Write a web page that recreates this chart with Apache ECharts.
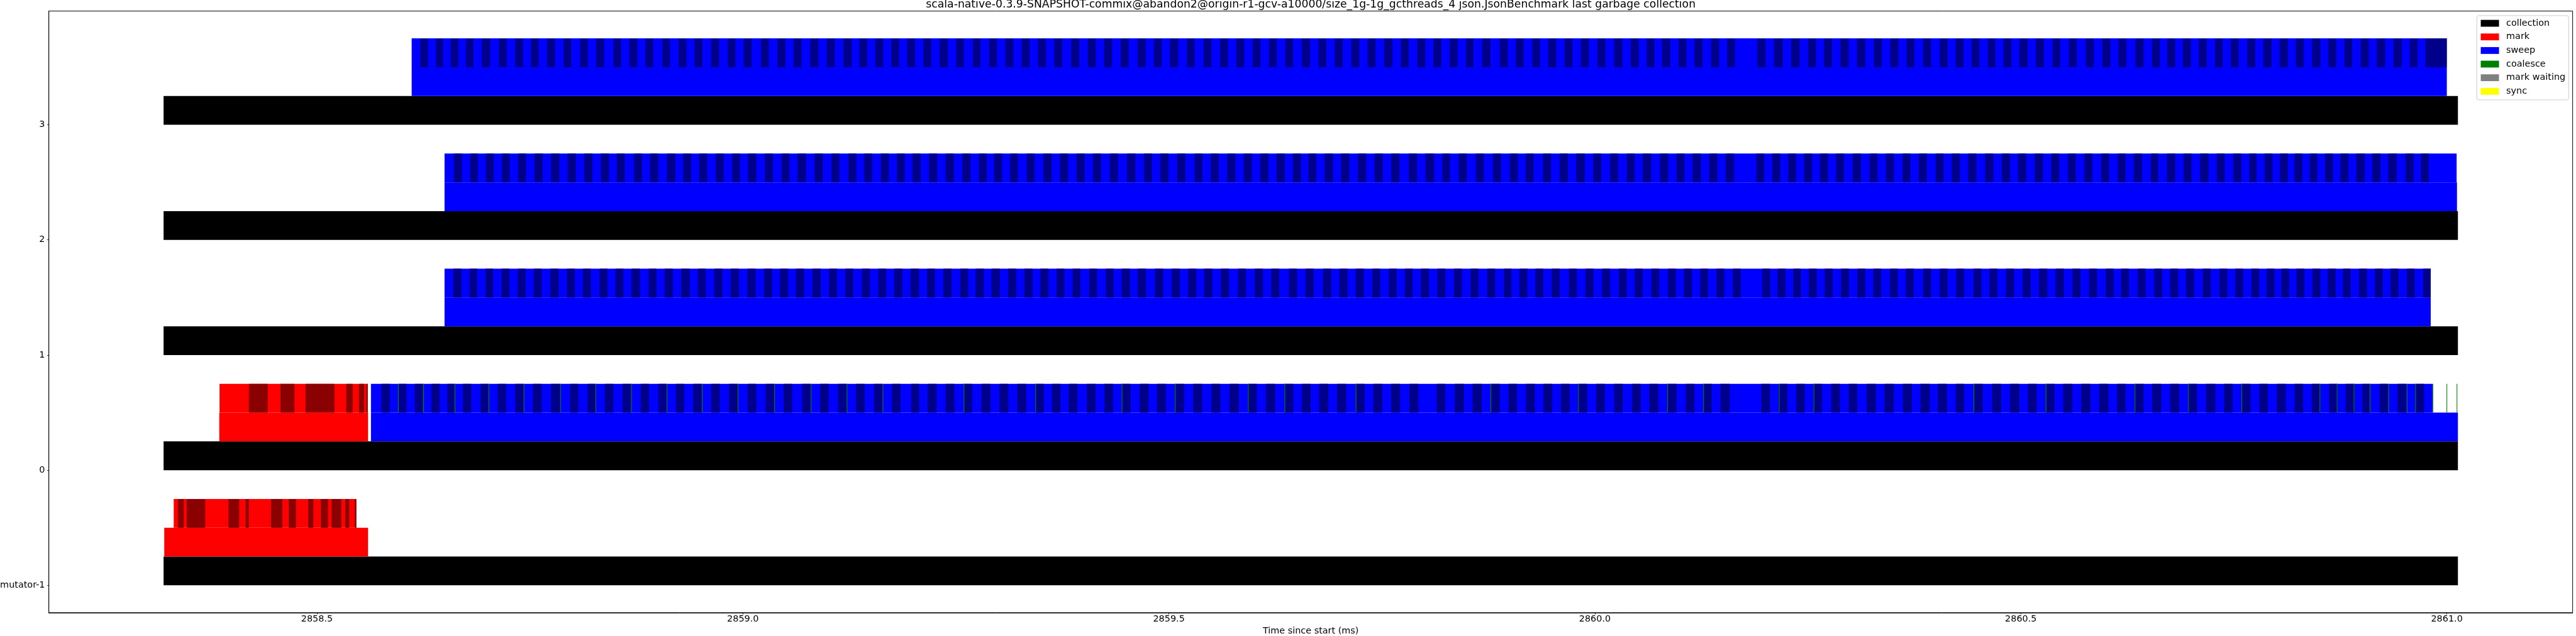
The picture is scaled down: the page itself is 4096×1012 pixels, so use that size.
<!DOCTYPE html>
<html><head><meta charset="utf-8">
<script src="https://cdn.jsdelivr.net/npm/echarts@6/dist/echarts.min.js"></script>
<style>html,body{margin:0;padding:0;background:#fff}#c{width:4096px;height:1012px}</style>
</head><body><div id="c"></div>
<script>
// ---------------- data ----------------
const titleText = 'scala-native-0.3.9-SNAPSHOT-commix@abandon2@origin-r1-gcv-a10000/size_1g-1g_gcthreads_4 json.JsonBenchmark last garbage collection';
const xAxisName = 'Time since start (ms)';
const yTickValues = [-1, 0, 1, 2, 3];
const yTickLabels = ['mutator-1', '0', '1', '2', '3'];
const xTickValues = [2858.5, 2859.0, 2859.5, 2860.0, 2860.5, 2861.0];
const xTickLabels = ['2858.5', '2859.0', '2859.5', '2860.0', '2860.5', '2861.0'];
const legendNames = ['collection', 'mark', 'sweep', 'coalesce', 'mark waiting', 'sync'];

// [row, start, end]
const collectionSpans = [[-1, 2858.3200, 2861.0130], [0, 2858.3200, 2861.0130], [1, 2858.3200, 2861.0130], [2, 2858.3200, 2861.0130], [3, 2858.3200, 2861.0130]];
const markPhases = [[-1, 2858.3208, 2858.5600], [0, 2858.3854, 2858.5600]];
const sweepPhases = [[0, 2858.5634, 2861.0130], [1, 2858.6498, 2860.9811], [2, 2858.6498, 2861.0119], [3, 2858.6112, 2861.0000]];
const markBatchSpans = [[-1, 2858.3319, 2858.5462], [0, 2858.3857, 2858.5596]];
const sweepBatchSpans = [[0, 2858.5634, 2860.9832], [1, 2858.6498, 2860.9811], [2, 2858.6498, 2861.0115], [3, 2858.6112, 2861.0000]];

// alternate (dark) batches, [start, end]
const markDarkMutator = [[2858.3368,2858.3437],[2858.3471,2858.3689],[2858.3961,2858.4087],[2858.4163,2858.4201],[2858.4461,2858.4595],[2858.4668,2858.4755],[2858.4897,2858.4958],[2858.5046,2858.5130],[2858.5172,2858.5287],[2858.5332,2858.5378],[2858.5443,2858.5462]];
const markDarkThread0 = [[2858.4201,2858.4423],[2858.4572,2858.4736],[2858.4866,2858.5206],[2858.5344,2858.5420],[2858.5493,2858.5554],[2858.5581,2858.5596]];

const sweepDarkThread0 = [[2858.5757,2858.5856],
[2858.5961,2858.6051],[2858.6148,2858.6246],[2858.6343,2858.6441],[2858.6530,2858.6620],[2858.6714,2858.6811],[2858.6920,2858.7014],[2858.7123,2858.7221],[2858.7326,2858.7427],[2858.7533,2858.7638],[2858.7747,2858.7856],[2858.7973,2858.8067],[2858.8176,2858.8270],[2858.8379,2858.8480],[2858.8586,2858.8687],[2858.8800,2858.8898],[2858.9007,2858.9104],[2858.9213,2858.9311],[2858.9416,2858.9518],[2858.9627,2858.9728],[2858.9837,2858.9939],[2859.0056,2859.0157],[2859.0266,2859.0368],[2859.0477,2859.0578],[2859.0695,2859.0797],[2859.0906,2859.1007],[2859.1117,2859.1218],[2859.1327,2859.1429],[2859.1538,2859.1639],[2859.1748,2859.1850],[2859.1975,2859.2067],
[2859.2168,2859.2274],[2859.2379,2859.2484],[2859.2590,2859.2691],[2859.2800,2859.2906],[2859.3011,2859.3116],[2859.3221,2859.3327],[2859.3432,2859.3533],[2859.3627,2859.3728],[2859.3822,2859.3927],[2859.4037,2859.4138],[2859.4243,2859.4345],[2859.4446,2859.4551],[2859.4657,2859.4762],[2859.4859,2859.4965],[2859.5070,2859.5179],[2859.5285,2859.5390],[2859.5499,2859.5604],[2859.5710,2859.5819],[2859.5928,2859.6033],[2859.6139,2859.6248],[2859.6357,2859.6462],[2859.6560,2859.6665],[2859.6763,2859.6872],[2859.6973,2859.7082],[2859.7192,2859.7297],[2859.7398,2859.7504],[2859.7609,2859.7714],[2859.7823,2859.7929],
[2859.8143,2859.8244],[2859.8354,2859.8463],[2859.8564,2859.8673],[2859.8775,2859.8884],[2859.8985,2859.9087],[2859.9192,2859.9297],[2859.9395,2859.9500],[2859.9602,2859.9703],[2859.9804,2859.9910],[2860.0015,2860.0116],[2860.0226,2860.0327],[2860.0436,2860.0538],[2860.0639,2860.0744],[2860.0850,2860.0959],[2860.1068,2860.1169],[2860.1271,2860.1372],[2860.1474,2860.1583],[2860.1953,2860.2055],[2860.2160,2860.2261],[2860.2363,2860.2464],[2860.2566,2860.2667],[2860.2772,2860.2878],[2860.2979,2860.3080],[2860.3190,2860.3299],[2860.3400,2860.3509],[2860.3615,2860.3720],[2860.3821,2860.3931],[2860.4024,2860.4133],
[2860.4234,2860.4335],[2860.4444,2860.4553],[2860.4663,2860.4768],[2860.4873,2860.4982],[2860.5084,2860.5185],[2860.5291,2860.5396],[2860.5497,2860.5606],[2860.5708,2860.5817],[2860.5918,2860.6028],[2860.6129,2860.6230],[2860.6336,2860.6441],[2860.6542,2860.6648],[2860.6753,2860.6858],[2860.6964,2860.7069],[2860.7174,2860.7283],[2860.7385,2860.7486],[2860.7588,2860.7697],[2860.7798,2860.7900],[2860.8005,2860.8110],[2860.8212,2860.8313],[2860.8414,2860.8516],[2860.8617,2860.8719],[2860.8812,2860.8921],[2860.9007,2860.9101],[2860.9210,2860.9311],[2860.9421,2860.9522],[2860.9631,2860.9733]];

const sweepDarkThread1 = [[2858.6600,2858.6698],[2858.6792,2858.6881],[2858.6979,2858.7068],[2858.7166,2858.7260],[2858.7357,2858.7451],[2858.7544,2858.7638],[2858.7739,2858.7837],[2858.7934,2858.8028],[2858.8121,2858.8215],[2858.8316,2858.8410],[2858.8504,2858.8597],[2858.8691,2858.8792],[2858.8894,2858.8987],[2858.9081,2858.9178],[2858.9276,2858.9377],[2858.9471,2858.9564],[2858.9662,2858.9759],[2858.9857,2858.9954],[2859.0052,2859.0149],[2859.0247,2859.0344],[2859.0434,2859.0532],[2859.0621,2859.0719],[2859.0816,2859.0914],[2859.1011,2859.1105],[2859.1202,2859.1296],[2859.1397,2859.1491],[2859.1589,2859.1682],[2859.1776,2859.1873],[2859.1967,2859.2067],
[2859.2161,2859.2254],[2859.2352,2859.2449],[2859.2551,2859.2644],[2859.2730,2859.2828],[2859.2917,2859.3015],[2859.3112,2859.3210],[2859.3303,2859.3401],[2859.3491,2859.3588],[2859.3682,2859.3775],[2859.3869,2859.3962],[2859.4064,2859.4157],[2859.4259,2859.4352],[2859.4446,2859.4544],[2859.4633,2859.4731],[2859.4836,2859.4934],[2859.5031,2859.5129],[2859.5226,2859.5324],[2859.5413,2859.5511],[2859.5608,2859.5706],[2859.5811,2859.5905],[2859.6006,2859.6104],[2859.6201,2859.6295],[2859.6408,2859.6505],[2859.6603,2859.6700],[2859.6809,2859.6907],[2859.7001,2859.7098],[2859.7192,2859.7289],[2859.7387,2859.7480],[2859.7582,2859.7675],[2859.7769,2859.7862],[2859.7956,2859.8054],
[2859.8151,2859.8244],[2859.8346,2859.8439],[2859.8541,2859.8634],[2859.8736,2859.8829],[2859.8931,2859.9021],[2859.9114,2859.9208],[2859.9301,2859.9395],[2859.9492,2859.9586],[2859.9695,2859.9789],[2859.9890,2859.9984],[2860.0085,2860.0179],[2860.0280,2860.0374],[2860.0467,2860.0561],[2860.0662,2860.0756],[2860.0857,2860.0951],[2860.1045,2860.1138],[2860.1236,2860.1329],[2860.1427,2860.1520],[2860.1618,2860.1712],[2860.1965,2860.2059],[2860.2144,2860.2238],[2860.2328,2860.2417],[2860.2511,2860.2605],[2860.2698,2860.2792],[2860.2889,2860.2983],[2860.3080,2860.3174],[2860.3268,2860.3361],[2860.3463,2860.3556],[2860.3650,2860.3743],[2860.3853,2860.3946],[2860.4048,2860.4141],
[2860.4241,2860.4335],[2860.4444,2860.4538],[2860.4631,2860.4725],[2860.4826,2860.4920],[2860.5021,2860.5115],[2860.5212,2860.5310],[2860.5407,2860.5505],[2860.5606,2860.5700],[2860.5801,2860.5895],[2860.5996,2860.6090],[2860.6176,2860.6269],[2860.6371,2860.6464],[2860.6566,2860.6659],[2860.6753,2860.6847],[2860.6940,2860.7034],[2860.7135,2860.7229],[2860.7330,2860.7424],[2860.7517,2860.7611],[2860.7705,2860.7798],[2860.7884,2860.7978],[2860.8056,2860.8149],[2860.8235,2860.8329],[2860.8422,2860.8516],[2860.8602,2860.8695],[2860.8781,2860.8871],[2860.8968,2860.9062],[2860.9155,2860.9249],[2860.9339,2860.9432],[2860.9530,2860.9623],[2860.9721,2860.9811]];

const sweepDarkThread2 = [[2858.6608,2858.6702],[2858.6799,2858.6889],[2858.6983,2858.7076],[2858.7170,2858.7263],[2858.7361,2858.7455],[2858.7552,2858.7650],[2858.7747,2858.7845],[2858.7942,2858.8040],[2858.8137,2858.8235],[2858.8332,2858.8430],[2858.8519,2858.8613],[2858.8722,2858.8816],[2858.8909,2858.9007],[2858.9108,2858.9206],[2858.9299,2858.9393],[2858.9486,2858.9580],[2858.9681,2858.9775],[2858.9873,2858.9966],[2859.0060,2859.0157],[2859.0259,2859.0352],[2859.0454,2859.0547],[2859.0641,2859.0742],[2859.0840,2859.0937],[2859.1039,2859.1132],[2859.1238,2859.1331],[2859.1425,2859.1518],[2859.1620,2859.1713],[2859.1807,2859.1901],
[2859.1989,2859.2087],[2859.2184,2859.2282],[2859.2379,2859.2477],[2859.2574,2859.2672],[2859.2769,2859.2863],[2859.2948,2859.3042],[2859.3136,2859.3229],[2859.3331,2859.3424],[2859.3526,2859.3623],[2859.3721,2859.3818],[2859.3916,2859.4013],[2859.4107,2859.4204],[2859.4306,2859.4403],[2859.4508,2859.4606],[2859.4707,2859.4801],[2859.4898,2859.4996],[2859.5097,2859.5195],[2859.5300,2859.5394],[2859.5491,2859.5585],[2859.5686,2859.5780],[2859.5877,2859.5975],[2859.6072,2859.6170],[2859.6263,2859.6361],[2859.6455,2859.6552],[2859.6638,2859.6731],[2859.6829,2859.6926],[2859.7020,2859.7118],[2859.7219,2859.7316],[2859.7414,2859.7511],[2859.7609,2859.7706],[2859.7816,2859.7913],[2859.8011,2859.8116],
[2859.8209,2859.8299],[2859.8400,2859.8498],[2859.8603,2859.8697],[2859.8802,2859.8900],[2859.9001,2859.9095],[2859.9188,2859.9282],[2859.9391,2859.9485],[2859.9586,2859.9684],[2859.9781,2859.9882],[2859.9980,2860.0074],[2860.0179,2860.0272],[2860.0374,2860.0467],[2860.0561,2860.0659],[2860.0764,2860.0861],[2860.0959,2860.1052],[2860.1146,2860.1244],[2860.1341,2860.1439],[2860.1536,2860.1634],[2860.1895,2860.1988],[2860.2082,2860.2176],[2860.2269,2860.2363],[2860.2456,2860.2550],[2860.2640,2860.2737],[2860.2831,2860.2924],[2860.3026,2860.3123],[2860.3225,2860.3318],[2860.3416,2860.3509],[2860.3611,2860.3704],[2860.3802,2860.3896],[2860.4001,2860.4094],[2860.4188,2860.4284],
[2860.4382,2860.4479],[2860.4581,2860.4678],[2860.4776,2860.4873],[2860.4967,2860.5064],[2860.5162,2860.5259],[2860.5357,2860.5450],[2860.5552,2860.5645],[2860.5747,2860.5840],[2860.5942,2860.6035],[2860.6137,2860.6230],[2860.6324,2860.6422],[2860.6527,2860.6613],[2860.6714,2860.6812],[2860.6909,2860.7003],[2860.7104,2860.7202],[2860.7299,2860.7393],[2860.7494,2860.7588],[2860.7681,2860.7767],[2860.7861,2860.7954],[2860.8040,2860.8134],[2860.8212,2860.8305],[2860.8391,2860.8481],[2860.8570,2860.8664],[2860.8750,2860.8847],[2860.8937,2860.9038],[2860.9124,2860.9222],[2860.9311,2860.9413],[2860.9514,2860.9612],[2860.9694,2860.9787]];

const sweepDarkThread3 = [[2858.6214,2858.6304],[2858.6398,2858.6480],[2858.6569,2858.6659],[2858.6749,2858.6838],[2858.6936,2858.7033],[2858.7135,2858.7228],[2858.7326,2858.7419],[2858.7513,2858.7603],[2858.7700,2858.7794],[2858.7895,2858.7985],[2858.8090,2858.8180],[2858.8277,2858.8371],[2858.8480,2858.8570],[2858.8667,2858.8761],[2858.8855,2858.8948],[2858.9054,2858.9143],[2858.9245,2858.9338],[2858.9432,2858.9525],[2858.9627,2858.9720],[2858.9822,2858.9912],[2859.0009,2859.0103],[2859.0212,2859.0305],[2859.0407,2859.0500],[2859.0594,2859.0688],[2859.0789,2859.0887],[2859.0984,2859.1078],[2859.1179,2859.1277],[2859.1366,2859.1460],[2859.1553,2859.1647],[2859.1741,2859.1834],[2859.1928,2859.2021],
[2859.2118,2859.2211],[2859.2309,2859.2406],[2859.2504,2859.2594],[2859.2699,2859.2789],[2859.2890,2859.2984],[2859.3081,2859.3175],[2859.3272,2859.3366],[2859.3463,2859.3557],[2859.3654,2859.3748],[2859.3853,2859.3947],[2859.4048,2859.4142],[2859.4239,2859.4333],[2859.4434,2859.4528],[2859.4633,2859.4727],[2859.4824,2859.4918],[2859.5012,2859.5109],[2859.5210,2859.5304],[2859.5405,2859.5499],[2859.5600,2859.5694],[2859.5792,2859.5885],[2859.5983,2859.6076],[2859.6174,2859.6267],[2859.6365,2859.6458],[2859.6560,2859.6657],[2859.6755,2859.6848],[2859.6946,2859.7040],[2859.7141,2859.7235],[2859.7332,2859.7426],[2859.7527,2859.7625],[2859.7722,2859.7816],[2859.7917,2859.8011],
[2859.8104,2859.8198],[2859.8295,2859.8389],[2859.8486,2859.8576],[2859.8677,2859.8775],[2859.8884,2859.8978],[2859.9071,2859.9165],[2859.9266,2859.9356],[2859.9453,2859.9547],[2859.9645,2859.9738],[2859.9836,2859.9929],[2860.0031,2860.0124],[2860.0226,2860.0323],[2860.0421,2860.0514],[2860.0608,2860.0701],[2860.0787,2860.0885],[2860.0982,2860.1076],[2860.1169,2860.1263],[2860.1364,2860.1458],[2860.1552,2860.1645],[2860.1907,2860.2004],[2860.2102,2860.2207],[2860.2304,2860.2402],[2860.2503,2860.2597],[2860.2690,2860.2784],[2860.2882,2860.2979],[2860.3077,2860.3174],[2860.3275,2860.3369],[2860.3467,2860.3564],[2860.3658,2860.3751],[2860.3853,2860.3946],[2860.4048,2860.4141],
[2860.4234,2860.4327],[2860.4421,2860.4514],[2860.4612,2860.4702],[2860.4795,2860.4889],[2860.4982,2860.5080],[2860.5174,2860.5271],[2860.5372,2860.5462],[2860.5564,2860.5657],[2860.5762,2860.5856],[2860.5954,2860.6051],[2860.6145,2860.6238],[2860.6344,2860.6441],[2860.6539,2860.6632],[2860.6718,2860.6812],[2860.6901,2860.6995],[2860.7088,2860.7182],[2860.7280,2860.7369],[2860.7463,2860.7556],[2860.7658,2860.7751],[2860.7845,2860.7943],[2860.8036,2860.8134],[2860.8227,2860.8321],[2860.8418,2860.8516],[2860.8609,2860.8703],[2860.8797,2860.8890],[2860.8988,2860.9085],[2860.9175,2860.9276],[2860.9374,2860.9471],[2860.9565,2860.9659],[2860.9748,2860.9998]];

// coalesce events on thread 0, [start, end]
const coalesceThread0 = [[2858.5952,2858.5960],[2858.6246,2858.6256],[2858.6616,2858.6624],[2858.7014,2858.7022],[2858.7427,2858.7435],[2858.7856,2858.7864],[2858.8270,2858.8278],[2858.8687,2858.8695],[2858.9104,2858.9112],[2858.9518,2858.9526],[2858.9939,2858.9947],[2859.0368,2859.0376],[2859.0797,2859.0805],[2859.1218,2859.1226],[2859.1639,2859.1647],[2859.2590,2859.2598],[2859.3432,2859.3440],[2859.4446,2859.4454],[2859.5070,2859.5078],[2859.5928,2859.5936],[2859.6357,2859.6365],[2859.7192,2859.7200],[2859.8775,2859.8783],[2859.9804,2859.9812],[2860.0850,2860.0858],[2860.1271,2860.1279],[2860.2160,2860.2168],[2860.2566,2860.2574],[2860.4444,2860.4452],[2860.5291,2860.5299],[2860.6336,2860.6344],[2860.6964,2860.6972],[2860.7588,2860.7596],[2860.8506,2860.8514],[2860.8708,2860.8716],[2860.8907,2860.8915],[2860.9094,2860.9102],[2860.9312,2860.9320],[2860.9530,2860.9538],[2860.9629,2860.9637],[2860.9832,2860.9840],[2860.9996,2861.0004],[2861.0115,2861.0123]];

// ---------------- build ----------------
const S = 0.518;
const FONT = 'DejaVu Sans';
const grid = {left: 150 * S, right: 4096 - 7897 * S, top: 34 * S, bottom: 1012 - 1882 * S};
const xMin = 2858.18535, xMax = 2861.14765;
const yMin = -1.2375, yMax = 3.9875;

function rows(list, layer, variant) { return list.map(r => [r[0], r[1], r[2], layer, variant]); }
function stripes(row, list, layer, variant) { return list.map(p => [row, p[0], p[1], layer, variant]); }

const collectionData = rows(collectionSpans, 0, 0);
const markData = [].concat(rows(markPhases, 1, 0), rows(markBatchSpans, 2, 0),
  stripes(-1, markDarkMutator, 2, 1), stripes(0, markDarkThread0, 2, 1));
const sweepData = [].concat(rows(sweepPhases, 1, 0), rows(sweepBatchSpans, 2, 0),
  stripes(0, sweepDarkThread0, 2, 1), stripes(1, sweepDarkThread1, 2, 1),
  stripes(2, sweepDarkThread2, 2, 1), stripes(3, sweepDarkThread3, 2, 1));
const coalesceData = stripes(0, coalesceThread0, 2, 0);

function makeRender(colors) {
  return function (params, api) {
    const row = api.value(0), s = api.value(1), e = api.value(2), layer = api.value(3), variant = api.value(4);
    const p0 = api.coord([s, row + layer * 0.25 + 0.25]);
    const p1 = api.coord([e, row + layer * 0.25]);
    return {
      type: 'rect', silent: true,
      shape: {x: p0[0], y: p0[1], width: Math.max(p1[0] - p0[0], 0.01), height: p1[1] - p0[1]},
      style: {fill: colors[variant] || colors[0]}
    };
  };
}
function customSeries(name, colors, data) {
  return {
    name: name, type: 'custom', color: colors[0], itemStyle: {color: colors[0]},
    renderItem: makeRender(colors), data: data, encode: {x: [1, 2], y: 0},
    clip: false, animation: false
  };
}

// center title over the plot area
const cvs = document.createElement('canvas').getContext('2d');
const titleSize = 33.3 * S;
cvs.font = titleSize + 'px "' + FONT + '"';
const titleW = cvs.measureText(titleText).width;
const plotCenter = (150 * S + 7897 * S) / 2;

const chart = echarts.init(document.getElementById('c'), null, {renderer: 'canvas'});
chart.setOption({
  animation: false,
  backgroundColor: '#ffffff',
  title: {
    text: titleText, left: plotCenter - titleW / 2, top: -1, padding: 0,
    textStyle: {fontFamily: FONT, fontSize: titleSize, fontWeight: 'normal', color: '#000'}
  },
  grid: Object.assign({show: true, borderColor: '#000', borderWidth: 1, backgroundColor: 'transparent', containLabel: false, outerBoundsMode: 'none'}, grid),
  legend: {
    data: legendNames, orient: 'vertical', left: 7603 * S, top: 48 * S,
    padding: [4.2, 5.1, 5.6, 6.2],
    itemWidth: 56 * S, itemHeight: 21 * S, itemGap: 5.65, icon: 'rect',
    textStyle: {fontFamily: FONT, fontSize: 27.8 * S, color: '#000', lineHeight: 16, padding: [0, 0, 0, 6.5]},
    backgroundColor: 'rgba(255,255,255,0.8)', borderColor: '#cccccc', borderWidth: 1, borderRadius: 3,
    selectedMode: false
  },
  xAxis: {
    type: 'value', min: xMin, max: xMax,
    name: xAxisName, nameLocation: 'middle', nameGap: 20.6,
    nameTextStyle: {fontFamily: FONT, fontSize: 27.8 * S, color: '#000'},
    axisLine: {show: true, onZero: false, lineStyle: {color: '#000', width: 1}},
    axisTick: {show: true, length: 2.5, customValues: xTickValues, lineStyle: {color: '#000', width: 1}},
    axisLabel: {customValues: xTickValues, margin: 3.5, fontFamily: FONT, fontSize: 27.8 * S, color: '#000',
      formatter: v => xTickLabels[xTickValues.indexOf(v)] ?? ''},
    splitLine: {show: false}
  },
  yAxis: {
    type: 'value', min: yMin, max: yMax,
    axisLine: {show: true, onZero: false, lineStyle: {color: '#000', width: 1}},
    axisTick: {show: true, length: 2.5, customValues: yTickValues, lineStyle: {color: '#000', width: 1}},
    axisLabel: {customValues: yTickValues, margin: 6.2, fontFamily: FONT, fontSize: 27.8 * S, color: '#000',
      formatter: v => yTickLabels[yTickValues.indexOf(v)] ?? ''},
    splitLine: {show: false}
  },
  series: [
    customSeries('collection', ['#000000'], collectionData),
    customSeries('mark', ['#ff0000', '#8b0000'], markData),
    customSeries('sweep', ['#0000ff', '#00008b'], sweepData),
    customSeries('coalesce', ['#008000'], coalesceData),
    customSeries('mark waiting', ['#808080'], []),
    customSeries('sync', ['#ffff00'], [])
  ]
});
</script>
</body></html>
